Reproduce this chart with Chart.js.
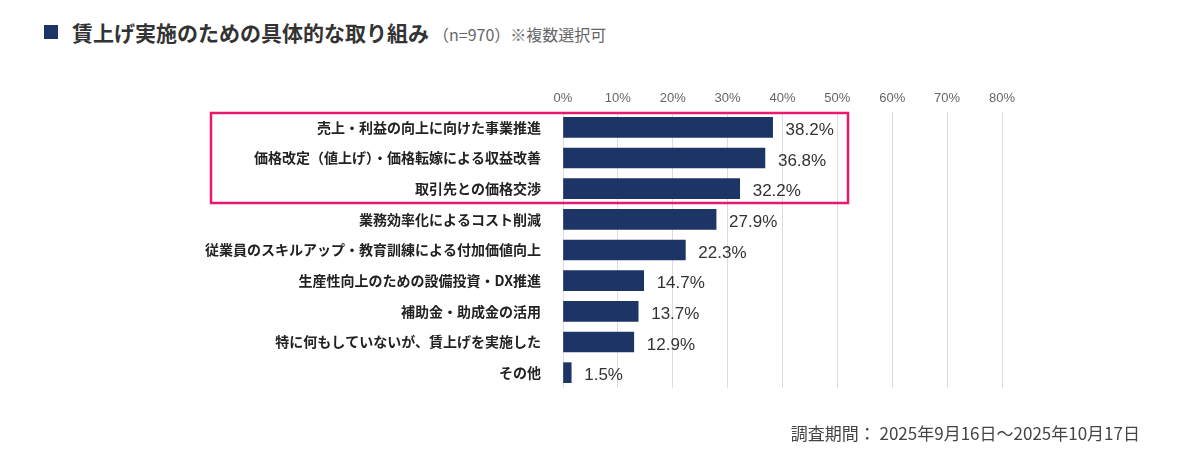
<!DOCTYPE html>
<html><head><meta charset="utf-8">
<script src="https://cdn.jsdelivr.net/npm/chart.js@4"></script>
<style>
body{margin:0;background:#fff;font-family:"Noto Sans CJK JP","Noto Sans",sans-serif;}
#wrap{position:absolute;left:0;top:0;width:1188px;height:471px;}
.title{position:absolute;left:44px;top:17px;font-size:21px;font-weight:bold;color:#333;white-space:nowrap;}
.title .sq{display:inline-block;width:14px;height:14px;background:#1c3466;margin-right:14px;vertical-align:2px;}
.title .sub{font-size:16px;font-weight:normal;color:#666;margin-left:4px;}
.foot{position:absolute;right:48px;top:420px;font-size:17px;color:#444;}
</style></head><body>
<div class="title"><span class="sq"></span>賃上げ実施のための具体的な取り組み<span class="sub">（n=970）※複数選択可</span></div>
<div id="wrap"><canvas id="c" width="1188" height="471"></canvas></div>
<div class="foot">調査期間： 2025年9月16日～2025年10月17日</div>
<script>
const categories = [
  "売上・利益の向上に向けた事業推進",
  "価格改定（値上げ）・価格転嫁による収益改善",
  "取引先との価格交渉",
  "業務効率化によるコスト削減",
  "従業員のスキルアップ・教育訓練による付加価値向上",
  "生産性向上のための設備投資・DX推進",
  "補助金・助成金の活用",
  "特に何もしていないが、賃上げを実施した",
  "その他"
];
const values = [38.2, 36.8, 32.2, 27.9, 22.3, 14.7, 13.7, 12.9, 1.5];
const highlighted = 3; // first rows inside the pink box

const valueLabels = {
  id: "valueLabels",
  afterDatasetsDraw(chart) {
    const ctx = chart.ctx;
    const meta = chart.getDatasetMeta(0);
    ctx.save();
    ctx.font = "17px 'Liberation Sans', Arial, sans-serif";
    ctx.fillStyle = "#333";
    ctx.textBaseline = "middle";
    meta.data.forEach((bar, i) => {
      ctx.fillText(values[i].toFixed(1) + "%", bar.x + 13, bar.y + 3);
    });
    // pink highlight box
    const y = chart.scales.y;
    const half = (y.getPixelForValue(1) - y.getPixelForValue(0)) / 2;
    const top = y.getPixelForValue(0) - half + 1;
    const bottom = y.getPixelForValue(highlighted - 1) + half - 1;
    ctx.strokeStyle = "#e8196e";
    ctx.lineWidth = 2.5;
    ctx.strokeRect(211, top, 848 - 211, bottom - top);
    ctx.restore();
  }
};

new Chart(document.getElementById("c"), {
  type: "bar",
  data: {
    labels: categories,
    datasets: [{data: values, backgroundColor: "#1c3466", barThickness: 20}]
  },
  options: {
    indexAxis: "y",
    responsive: false,
    animation: false,
    layout: {padding: {top: 82, right: 186, bottom: 83, left: 0}},
    plugins: {legend: {display: false}, tooltip: {enabled: false}},
    scales: {
      x: {
        position: "top", min: 0, max: 80,
        ticks: {stepSize: 10, callback: v => v + "%", color: "#666", padding: 6,
          font: {size: 13, family: "'Liberation Sans', Arial, sans-serif"}},
        grid: {color: "#dcdcdc", drawTicks: false},
        border: {display: false},
        afterFit: s => { s.height = 30; }
      },
      y: {
        ticks: {color: "#222", padding: 14,
          font: {size: 14, weight: "bold", family: "'Noto Sans CJK JP', sans-serif"}},
        grid: {display: false},
        border: {display: false},
        afterFit: s => { s.width = 563; }
      }
    }
  },
  plugins: [valueLabels]
});
</script>
</body></html>
